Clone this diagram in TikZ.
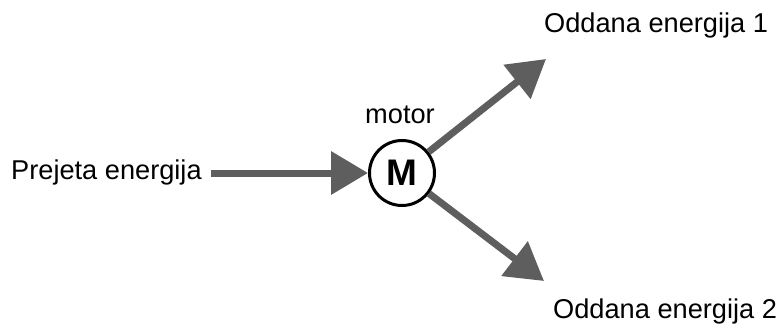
\documentclass[tikz,border=0pt]{standalone}
\usepackage{fontspec}
\setmainfont{Liberation Sans}
\usetikzlibrary{arrows.meta}
\definecolor{arrgray}{HTML}{5E5E5E}
\tikzset{
  lbl/.style={inner sep=0pt, font=\fontsize{27.2}{31}\selectfont},
  arr/.style={draw=arrgray, line width=7pt, -{Triangle[length=37pt,width=42pt]}, arrgray},
  motorc/.style={circle, draw=black, line width=3pt, minimum size=65pt, inner sep=0pt, fill=white,
    font=\fontsize{37}{40}\selectfont\bfseries}
}
\begin{document}
\begin{tikzpicture}[x=1pt,y=-1pt]
\useasboundingbox (0,0) rectangle (782,329);
\node[motorc] (M) at (402,173) {M};
\node[lbl, anchor=base] (mt) at (400,123) {motor};
\node[lbl, anchor=base west] (in) at (11,179) {Prejeta energija};
\node[lbl, anchor=base west] (o1) at (544,33) {Oddana energija 1};
\node[lbl, anchor=base west] (o2) at (553,318) {Oddana energija 2};
\coordinate (s) at (211,173);
\coordinate (t1) at (546,59);
\coordinate (t2) at (544,281);
\draw[arr] (s) -- (M.west);
\draw[arr] (M) -- (t1);
\draw[arr] (M) -- (t2);
\end{tikzpicture}
\end{document}
